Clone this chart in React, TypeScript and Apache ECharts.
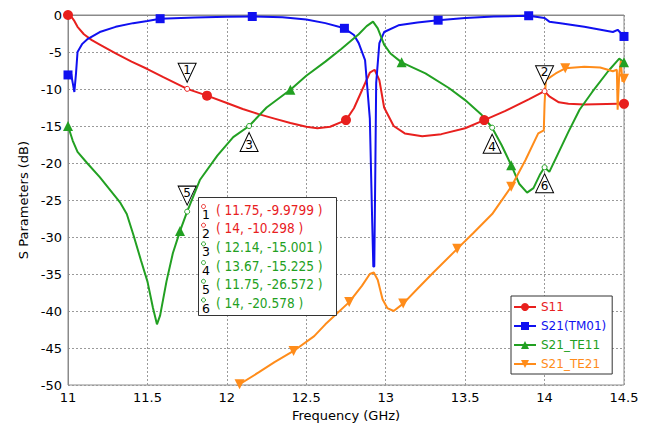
import React, { useEffect, useRef } from "react";
import * as echarts from "echarts";

const RED = "#e8201e";
const BLUE = "#1010f0";
const GREEN = "#22a022";
const ORANGE = "#ff8c1a";

const xTicks = { min: 11, max: 14.5, interval: 0.5 };
const yTicks = { min: -50, max: 0, interval: 5 };

const s11: [number, number][] = [
  [11.0, 0], [11.02, -0.2], [11.04, -0.8], [11.06, -1.6], [11.1, -2.6], [11.15, -3.4],
  [11.2, -4.0], [11.3, -5.2], [11.4, -6.3], [11.5, -7.3], [11.6, -8.4], [11.75, -9.9799],
  [11.875, -10.9], [12.0, -11.9], [12.1, -12.7], [12.2, -13.4], [12.3, -14.0], [12.4, -14.6],
  [12.5, -15.1], [12.57, -15.3], [12.65, -15.1], [12.75, -14.2], [12.8, -12.6], [12.85, -10.2],
  [12.9, -7.8], [12.93, -7.4], [12.96, -8.8], [12.99, -12.5], [13.05, -15.0], [13.12, -16.0],
  [13.23, -16.4], [13.35, -16.1], [13.5, -15.3], [13.62, -14.2], [13.75, -13.0], [13.9, -11.4],
  [14.0, -10.298], [14.03, -11.0], [14.09, -11.8], [14.15, -12.0], [14.25, -12.1], [14.46, -12.0],
  [14.5, -12.0],
];
const s11Marks = [11.0, 11.875, 12.75, 13.62, 14.5];

const s21tm01: [number, number][] = [
  [11.0, -8.1], [11.02, -8.0], [11.03, -9.2], [11.04, -10.4], [11.05, -8.0], [11.06, -5.0],
  [11.09, -3.9], [11.12, -3.3], [11.2, -2.3], [11.3, -1.6], [11.41, -1.1], [11.5, -0.8],
  [11.58, -0.5], [11.8, -0.35], [12.0, -0.25], [12.16, -0.2], [12.35, -0.3], [12.5, -0.6],
  [12.62, -1.1], [12.74, -1.8], [12.8, -2.7], [12.83, -3.8], [12.87, -6.1], [12.9, -14],
  [12.915, -28], [12.922, -34], [12.928, -34], [12.935, -20], [12.94, -9.2], [12.96, -3.8],
  [12.99, -2.3], [13.08, -1.4], [13.2, -1.0], [13.33, -0.7], [13.5, -0.4], [13.68, -0.2],
  [13.9, -0.1], [14.0, -0.4], [14.03, -0.9], [14.1, -1.1], [14.25, -1.6], [14.43, -2.3],
  [14.46, -2.0], [14.5, -2.9],
];
const s21tm01Marks = [11.0, 11.58, 12.16, 12.74, 13.33, 13.9, 14.5];

const s21te11: [number, number][] = [
  [11.0, -15.0], [11.03, -17.0], [11.06, -18.5], [11.12, -20.0], [11.2, -21.9], [11.33, -25.4],
  [11.37, -26.9], [11.41, -29.6], [11.46, -33.2], [11.5, -36.0], [11.535, -39.6], [11.56, -41.8],
  [11.58, -40.6], [11.62, -36.0], [11.66, -32.2], [11.705, -29.2], [11.75, -26.572], [11.83, -22.3],
  [11.94, -19.0], [12.04, -16.5], [12.14, -15.001], [12.25, -12.5], [12.4, -10.1], [12.5, -8.2],
  [12.62, -6.3], [12.72, -4.6], [12.83, -2.6], [12.88, -1.5], [12.92, -0.9], [12.95, -1.8],
  [12.99, -4.0], [13.03, -5.2], [13.1, -6.4], [13.25, -7.9], [13.4, -9.9], [13.5, -11.5],
  [13.6, -13.4], [13.67, -15.225], [13.73, -17.6], [13.79, -20.3], [13.84, -22.8], [13.89, -24.0],
  [13.93, -23.4], [13.97, -21.6], [14.0, -20.578], [14.03, -21.2], [14.07, -19.4], [14.15, -15.8],
  [14.22, -12.8], [14.3, -10.4], [14.4, -7.6], [14.47, -5.9], [14.5, -6.4],
];
const s21te11Marks = [11.0, 11.705, 12.4, 13.1, 13.79, 14.5];

const s21te21: [number, number][] = [
  [12.08, -49.9], [12.2, -48.3], [12.3, -46.9], [12.42, -45.4], [12.55, -43.4], [12.62, -41.8],
  [12.77, -38.8], [12.85, -36.6], [12.9, -35.0], [12.925, -34.8], [12.95, -35.8], [12.98, -38.4],
  [13.01, -39.6], [13.05, -40.0], [13.11, -39.0], [13.2, -37.0], [13.3, -34.8], [13.45, -31.6],
  [13.55, -29.5], [13.67, -26.9], [13.79, -23.2], [13.88, -19.6], [13.96, -16.0], [13.995, -15.6],
  [14.0, -12.0], [14.008, -8.8], [14.07, -7.9], [14.13, -7.2], [14.25, -7.0], [14.35, -7.1],
  [14.43, -7.6], [14.455, -7.4], [14.46, -12.8], [14.47, -8.0], [14.48, -6.2], [14.49, -9.0],
  [14.5, -8.6],
];
const s21te21Marks = [12.08, 12.42, 12.77, 13.11, 13.45, 13.79, 14.13, 14.5];

const markerIds = [1, 2, 3, 4, 5, 6];
const markerFreq = [11.75, 14, 12.14, 13.67, 11.75, 14];
const markerVal = [-9.9799, -10.298, -15.001, -15.225, -26.572, -20.578];
const markerColor = [RED, RED, GREEN, GREEN, GREEN, GREEN];
const markerAbove = [true, true, false, false, true, false];

const FONT = "DejaVu Sans";

function buildData(pts: [number, number][], marks: number[]) {
  return pts.map(([x, y]) =>
    marks.includes(x) ? { value: [x, y] } : { value: [x, y], symbol: "none" }
  );
}

function buildMarkPoints(color: string) {
  const items: any[] = [];
  markerIds.forEach((id, i) => {
    if (markerColor[i] !== color) return;
    const above = markerAbove[i];
    items.push({
      coord: [markerFreq[i], markerVal[i]],
      symbol: "triangle",
      symbolSize: [18, 19],
      symbolRotate: above ? 180 : 0,
      symbolOffset: [0, above ? -16 : 16],
      itemStyle: { color: "#fff", borderColor: "#000", borderWidth: 1 },
      label: {
        show: true,
        formatter: String(id),
        color: "#000",
        fontFamily: FONT,
        fontSize: 12,
        offset: [0, above ? -3 : 3],
      },
    });
    items.push({
      coord: [markerFreq[i], markerVal[i]],
      symbol: "circle",
      symbolSize: 5,
      itemStyle: { color: "#fff", borderColor: color, borderWidth: 1 },
      label: { show: false },
    });
  });
  return { silent: true, data: items };
}

export default function App() {
  const ref = useRef<HTMLDivElement>(null);
  useEffect(() => {
    document.body.style.margin = "0";
    const chart = echarts.init(ref.current!, null, { renderer: "svg" });

    const rows: any[] = [];
    const row0 = 209.5;
    const step = 18.7;
    markerIds.forEach((id, i) => {
      const y = row0 + i * step;
      rows.push({
        type: "circle",
        shape: { cx: 203.5, cy: y - 3, r: 2 },
        style: { fill: "#fff", stroke: markerColor[i], lineWidth: 1 },
        z: 101,
      });
      rows.push({
        type: "text",
        x: 206,
        y: y + 5,
        style: { text: String(id), fill: "#000", fontFamily: FONT, fontSize: 12.5, align: "center", verticalAlign: "middle" },
        z: 101,
      });
      rows.push({
        type: "text",
        x: 216,
        y: y,
        style: {
          text: `( ${markerFreq[i]}, ${markerVal[i]} )`,
          fill: markerColor[i],
          fontFamily: "'DejaVu Sans Condensed', 'DejaVu Sans'",
          fontSize: 13.5,
          align: "left",
          verticalAlign: "middle",
        },
        z: 101,
      });
    });

    const mkSeries = (name: string, pts: [number, number][], marks: number[], color: string, symbol: string, size: number, rotate = 0) => ({
      name,
      type: "line",
      data: buildData(pts, marks),
      symbol,
      symbolSize: size,
      symbolRotate: rotate,
      showSymbol: true,
      showAllSymbol: true,
      lineStyle: { width: 2, color },
      itemStyle: { color },
      emphasis: { disabled: true },
      markPoint: buildMarkPoints(color),
    });

    chart.setOption({
      animation: false,
      textStyle: { fontFamily: FONT },
      grid: { left: 68, right: 32, top: 15, bottom: 43, show: true, borderColor: "#8a8a8a", borderWidth: 1, backgroundColor: "transparent" },
      xAxis: {
        type: "value",
        min: xTicks.min,
        max: xTicks.max,
        interval: xTicks.interval,
        name: "Frequency (GHz)",
        nameLocation: "middle",
        nameGap: 22,
        nameTextStyle: { color: "#000", fontSize: 13, fontFamily: FONT, verticalAlign: "top" },
        axisLine: { show: true, lineStyle: { color: "#8a8a8a" } },
        axisTick: { show: false },
        axisLabel: { color: "#000", fontSize: 13, fontFamily: FONT, margin: 6 },
        splitLine: { show: true, lineStyle: { color: "#9a9a9a", type: [2, 2], width: 1 } },
      },
      yAxis: {
        type: "value",
        min: yTicks.min,
        max: yTicks.max,
        interval: yTicks.interval,
        name: "S Parameters (dB)",
        nameLocation: "middle",
        nameRotate: 90,
        nameGap: 31,
        nameTextStyle: { color: "#000", fontSize: 13, fontFamily: FONT },
        axisLine: { show: true, lineStyle: { color: "#8a8a8a" } },
        axisTick: { show: false },
        axisLabel: { color: "#000", fontSize: 13, fontFamily: FONT, margin: 6 },
        splitLine: { show: true, lineStyle: { color: "#9a9a9a", type: [2, 2], width: 1 } },
      },
      legend: {
        orient: "vertical",
        left: 511,
        top: 296,
        padding: [5, 6, 4, 2],
        itemWidth: 22,
        itemHeight: 10,
        itemGap: 7,
        backgroundColor: "#fff",
        borderColor: "#333",
        borderWidth: 1,
        borderRadius: 0,
        selectedMode: false,
        textStyle: { fontFamily: FONT, fontSize: 12, padding: [0, 0, 0, 0] },
        data: [
          { name: "S11", textStyle: { color: RED } },
          { name: "S21(TM01)", textStyle: { color: BLUE } },
          { name: "S21_TE11", textStyle: { color: GREEN } },
          { name: "S21_TE21", textStyle: { color: ORANGE } },
        ],
      },
      series: [
        mkSeries("S11", s11, s11Marks, RED, "circle", 10),
        mkSeries("S21(TM01)", s21tm01, s21tm01Marks, BLUE, "rect", 9),
        mkSeries("S21_TE11", s21te11, s21te11Marks, GREEN, "triangle", 10),
        mkSeries("S21_TE21", s21te21, s21te21Marks, ORANGE, "triangle", 10, 180),
      ],
      graphic: [
        {
          type: "rect",
          shape: { x: 198.5, y: 197.5, width: 138, height: 118 },
          style: { fill: "#fff", stroke: "#333", lineWidth: 1 },
          z: 100,
        },
        ...rows,
      ],
    });
    return () => chart.dispose();
  }, []);
  return <div ref={ref} style={{ width: 656, height: 428 }} />;
}
